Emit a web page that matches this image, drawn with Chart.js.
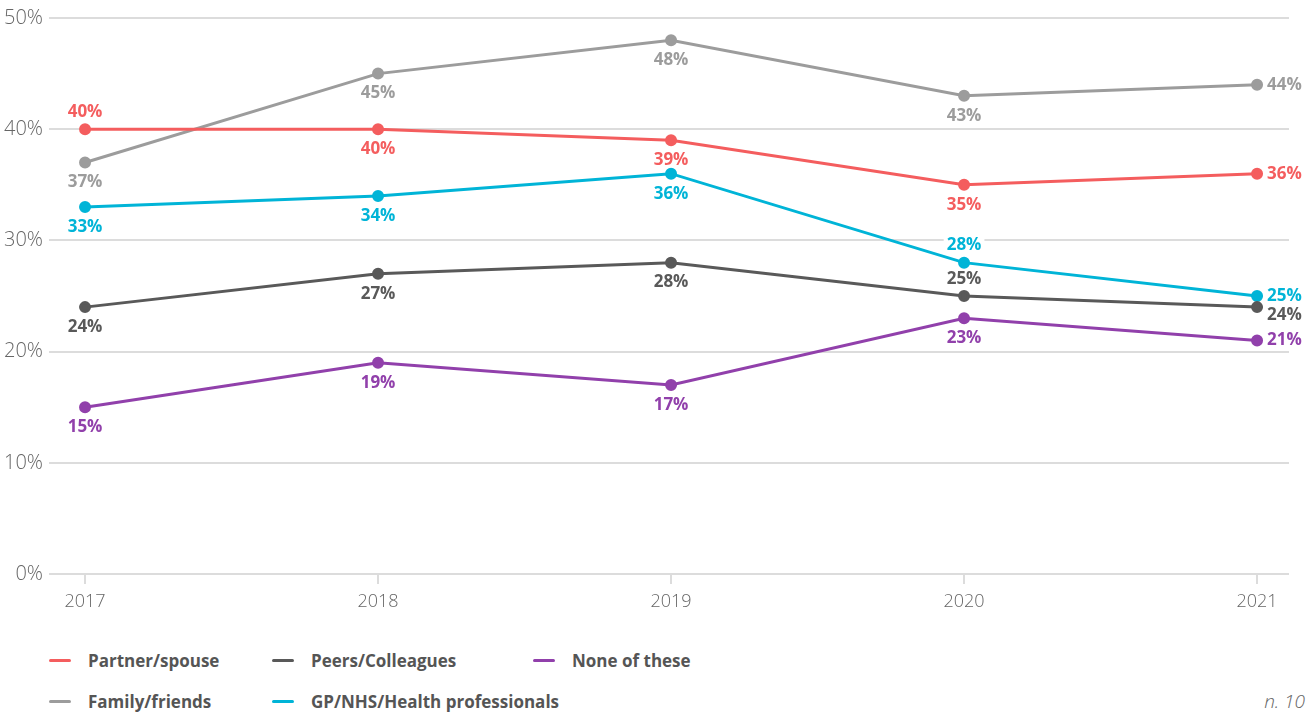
<!DOCTYPE html>
<html>
<head>
<meta charset="utf-8">
<script src="https://cdn.jsdelivr.net/npm/chart.js@4/dist/chart.umd.min.js"></script>
<style>
  html, body { margin: 0; padding: 0; background: #fff; }
  #wrap { position: relative; width: 1314px; height: 713px; font-family: "Open Sans", Lato, sans-serif; }
  #chart-box { position: absolute; left: 0; top: 0; width: 1314px; height: 630px; }
  #legend { position: absolute; left: 49px; top: 649px; display: grid; grid-template-columns: 223px 261px 260px; row-gap: 19px; }
  .legend-item { display: flex; align-items: center; height: 22px; font-weight: 700; font-size: 17px; color: #555; white-space: nowrap; }
  .legend-swatch { flex: 0 0 22px; width: 22px; height: 3px; border-radius: 2px; margin-right: 17px; }
  #note { position: absolute; right: 9px; top: 688px; font-style: italic; font-size: 19px; color: #666; font-weight: 300; }
</style>
</head>
<body>
<div id="wrap">
  <div id="chart-box"><canvas id="trendChart"></canvas></div>
  <div id="legend"></div>
  <div id="note">n. 10</div>
</div>
<script>
const years = [2017, 2018, 2019, 2020, 2021];

const partnerSpouse = [40, 40, 39, 35, 36];
const familyFriends = [37, 45, 48, 43, 44];
const gpHealth      = [33, 34, 36, 28, 25];
const peersColleagues = [24, 27, 28, 25, 24];
const noneOfThese   = [15, 19, 17, 23, 21];

const yTicks = [0, 10, 20, 30, 40, 50];

// where each value label sits relative to its point
const labelSpots = {
  partner: ['above', 'below', 'below', 'below', 'right'],
  family:  ['below', 'below', 'below', 'below', 'right'],
  gp:      ['below', 'below', 'below', 'above', 'right'],
  peers:   ['below', 'below', 'below', 'above', 'rightLow'],
  none:    ['below', 'below', 'below', 'below', 'right']
};

const series = [
  { key: 'partner', label: 'Partner/spouse', values: partnerSpouse, color: '#f45d5e' },
  { key: 'family',  label: 'Family/friends', values: familyFriends, color: '#9c9c9c' },
  { key: 'peers',   label: 'Peers/Colleagues', values: peersColleagues, color: '#595959' },
  { key: 'gp',      label: 'GP/NHS/Health professionals', values: gpHealth, color: '#00b4d7' },
  { key: 'none',    label: 'None of these', values: noneOfThese, color: '#9140ab' }
];

// legend order, column by column
const legendOrder = ['partner', 'peers', 'none', 'family', 'gp'];

const valueLabels = {
  id: 'valueLabels',
  afterDatasetsDraw(chart) {
    const ctx = chart.ctx;
    ctx.save();
    ctx.font = '700 17px "Open Sans", Lato, sans-serif';
    ctx.textBaseline = 'middle';
    chart.data.datasets.forEach((ds, i) => {
      const meta = chart.getDatasetMeta(i);
      const spots = labelSpots[ds.key];
      meta.data.forEach((pt, j) => {
        const txt = ds.data[j].y + '%';
        const spot = spots[j];
        let x = pt.x, y = pt.y;
        ctx.textAlign = 'center';
        if (spot === 'above') y -= 18;
        else if (spot === 'below') y += 19;
        else if (spot === 'right') { x += 10; ctx.textAlign = 'left'; y -= 1; }
        else if (spot === 'rightLow') { x += 10; ctx.textAlign = 'left'; y += 7; }
        const w = ctx.measureText(txt).width;
        const left = ctx.textAlign === 'center' ? x - w / 2 : x;
        ctx.fillStyle = '#fff';
        ctx.fillRect(left - 3, y - 8, w + 6, 16);
        ctx.fillStyle = ds.borderColor;
        ctx.fillText(txt, x, y + 1);
      });
    });
    ctx.restore();
  }
};

const ctx = document.getElementById('trendChart').getContext('2d');
new Chart(ctx, {
  type: 'line',
  data: {
    datasets: series.map(s => ({
      key: s.key,
      label: s.label,
      data: years.map((yr, i) => ({ x: yr, y: s.values[i] })),
      borderColor: s.color,
      backgroundColor: s.color,
      borderWidth: 3,
      pointRadius: 4.5,
      pointHoverRadius: 4.5,
      tension: 0
    }))
  },
  options: {
    responsive: true,
    maintainAspectRatio: false,
    animation: false,
    layout: { padding: { top: 18, right: 25, left: 0, bottom: 0 } },
    plugins: {
      legend: { display: false },
      tooltip: { enabled: false }
    },
    scales: {
      x: {
        type: 'linear',
        min: 2016.877,
        max: 2021.109,
        afterBuildTicks: scale => { scale.ticks = years.map(v => ({ value: v })); },
        afterFit: scale => { scale.height = 56; },
        grid: { drawOnChartArea: false, drawTicks: true, tickLength: 10, color: '#dcdcdc', lineWidth: 2 },
        border: { display: false },
        ticks: {
          color: '#666',
          font: { family: '"Open Sans", Lato, sans-serif', size: 18, weight: '300' },
          padding: 7,
          maxRotation: 0,
          callback: v => String(v)
        }
      },
      y: {
        min: 0,
        max: 50,
        afterBuildTicks: scale => { scale.ticks = yTicks.map(v => ({ value: v })); },
        afterFit: scale => { scale.width = 49; },
        grid: { color: '#dcdcdc', lineWidth: 2, drawTicks: false },
        border: { display: false },
        ticks: {
          color: '#666',
          font: { family: '"Open Sans", Lato, sans-serif', size: 20, weight: '300' },
          padding: 6,
          callback: v => v + '%'
        }
      }
    }
  },
  plugins: [valueLabels]
});

const legendEl = document.getElementById('legend');
legendOrder.forEach(key => {
  const s = series.find(d => d.key === key);
  const item = document.createElement('div');
  item.className = 'legend-item';
  item.innerHTML = `<span class="legend-swatch" style="background:${s.color}"></span>${s.label}`;
  legendEl.appendChild(item);
});
</script>
</body>
</html>
